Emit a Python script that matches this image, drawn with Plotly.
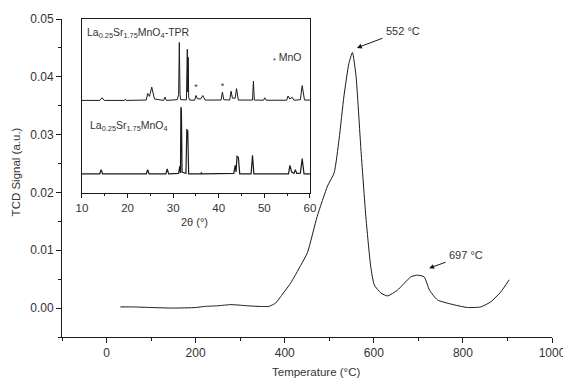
import plotly.graph_objects as go

# ---- TPR profile (main plot) ----
temp_c = [31, 60, 100, 150, 200, 222, 250, 279, 300, 316, 340, 365, 380, 391, 413,
          436, 451, 473, 496, 511, 522, 533, 544, 552, 560, 571, 582, 593, 601, 616,
          631, 653, 683, 698, 713, 725, 743, 773, 810, 840, 863, 885, 904]
tcd_signal = [0.0002, 0.0002, 0.0001, 0.0000, 0.0001, 0.0003, 0.0004, 0.0006, 0.0005,
              0.0004, 0.0003, 0.0003, 0.0009, 0.0020, 0.0043, 0.0074, 0.0096, 0.0159,
              0.0211, 0.0234, 0.0292, 0.0367, 0.0423, 0.0442, 0.0402, 0.0275, 0.0159,
              0.0072, 0.0040, 0.0026, 0.0021, 0.0031, 0.0054, 0.0057, 0.0054, 0.0031,
              0.0014, 0.0007, 0.0001, 0.0002, 0.0011, 0.0028, 0.0049]

# ---- XRD inset: after TPR (top pattern) ----
xrd_tpr_2theta = [10, 13.9, 14.4, 14.9, 19.3, 19.5, 19.7, 24.1, 24.4, 24.8, 25.3, 25.9,
                  27.9, 28.2, 28.5, 30.9, 31.2, 31.35, 31.5, 31.65, 32.9, 33.1, 33.2,
                  33.3, 33.4, 33.6, 34.7, 35.0, 35.3, 36.0, 36.5, 37.0, 40.5, 40.8, 41.1,
                  42.4, 42.7, 43.0, 43.6, 43.9, 44.3, 47.4, 47.6, 47.8, 49.8, 50.1, 50.4,
                  54.9, 55.2, 55.6, 56.1, 56.5, 57.9, 58.3, 58.8, 60]
xrd_tpr_int = [53.2, 53.2, 54.7, 53.2, 53.2, 53.9, 53.2, 53.4, 57.2, 55.5, 60.8, 54.0,
               53.2, 55.1, 53.2, 53.6, 56.6, 86.5, 56.6, 53.6, 53.5, 82.6, 58.0,
               78.0, 55.0, 53.4, 53.3, 56.0, 54.2, 54.0, 56.0, 53.4, 53.4, 58.0, 53.6,
               53.4, 58.5, 54.5, 54.5, 60.0, 53.4, 53.4, 64.2, 53.4, 53.3, 54.7, 53.3,
               53.3, 55.7, 54.0, 55.0, 53.3, 53.6, 61.7, 53.4, 53.4]

# ---- XRD inset: fresh sample (bottom pattern) ----
xrd_fresh_2theta = [10, 13.9, 14.2, 14.5, 24.1, 24.4, 24.7, 28.4, 28.7, 29.0, 31.2,
                    31.45, 31.6, 31.7, 31.8, 31.95, 32.8, 33.0, 33.1, 33.2, 33.4,
                    36.1, 36.2, 36.3, 43.3, 43.6, 43.8, 44.0, 44.3, 44.6, 47.1, 47.4,
                    47.7, 55.3, 55.6, 56.0, 56.5, 56.8, 57.1, 57.9, 58.3, 58.7, 60]
xrd_fresh_int = [11.0, 11.0, 13.4, 11.0, 11.0, 13.4, 11.0, 11.0, 13.8, 11.0, 11.2,
                 15.5, 11.5, 49.4, 48.0, 12.0, 11.2, 36.7, 35.5, 36.0, 11.0,
                 11.0, 11.8, 11.0, 11.2, 15.9, 12.0, 21.0, 20.5, 11.0, 11.0, 21.6,
                 11.0, 11.0, 15.9, 12.0, 11.2, 13.4, 11.2, 11.4, 19.7, 11.0, 11.0]

# ---- annotation labels ----
peak_labels = ["552 °C", "697 °C"]
peak_tips_t = [562, 724]
peak_tips_y = [0.0450, 0.0069]
label_t = [665, 807]
label_y = [0.0480, 0.0092]

mno_marks_2theta = [35.0, 40.8]
mno_marks_int = [60.5, 61.0]

ink = "#1a1a1a"
txt = "#333333"
font_family = "Liberation Sans, Arial, sans-serif"

fig = go.Figure()

fig.add_trace(go.Scatter(x=temp_c, y=tcd_signal, mode="lines",
                         line=dict(color=ink, width=1, shape="spline", smoothing=0.5),
                         xaxis="x", yaxis="y", showlegend=False, hoverinfo="skip"))
fig.add_trace(go.Scatter(x=xrd_tpr_2theta, y=xrd_tpr_int, mode="lines",
                         line=dict(color=ink, width=1), xaxis="x2", yaxis="y2",
                         showlegend=False, hoverinfo="skip"))
fig.add_trace(go.Scatter(x=xrd_fresh_2theta, y=xrd_fresh_int, mode="lines",
                         line=dict(color=ink, width=1.2), xaxis="x2", yaxis="y2",
                         showlegend=False, hoverinfo="skip"))
fig.add_trace(go.Scatter(x=mno_marks_2theta, y=mno_marks_int, mode="text",
                         text=["*"] * len(mno_marks_2theta),
                         textfont=dict(size=9, color=txt, family=font_family),
                         xaxis="x2", yaxis="y2", showlegend=False, hoverinfo="skip"))

annotations = []
for lab, xt, yt, xl, yl in zip(peak_labels, peak_tips_t, peak_tips_y, label_t, label_y):
    annotations.append(dict(x=xt, y=yt, xref="x", yref="y", ax=xl, ay=yl,
                            axref="x", ayref="y", text=lab, showarrow=True,
                            arrowhead=2, arrowsize=1, arrowwidth=1, arrowcolor=ink,
                            standoff=0, startstandoff=2,
                            font=dict(size=11, color=txt, family=font_family)))

annotations += [
    dict(x=10.7, y=92, xref="x2", yref="y2", xanchor="left", yanchor="middle",
         text="La<sub>0.25</sub>Sr<sub>1.75</sub>MnO<sub>4</sub>-TPR", showarrow=False,
         font=dict(size=10.5, color=txt, family=font_family)),
    dict(x=11.4, y=38.6, xref="x2", yref="y2", xanchor="left", yanchor="middle",
         text="La<sub>0.25</sub>Sr<sub>1.75</sub>MnO<sub>4</sub>", showarrow=False,
         font=dict(size=10.5, color=txt, family=font_family)),
    dict(x=51.4, y=77.5, xref="x2", yref="y2", xanchor="left", yanchor="middle",
         text="<sub>*</sub> MnO", showarrow=False,
         font=dict(size=10.5, color=txt, family=font_family)),
    # axis titles
    dict(x=0.518, y=-0.110, xref="paper", yref="paper", xanchor="center",
         yanchor="middle", text="Temperature (°C)", showarrow=False,
         font=dict(size=11.5, color=txt, family=font_family)),
    dict(x=-0.093, y=0.519, xref="paper", yref="paper", xanchor="center",
         yanchor="middle", text="TCD Signal (a.u.)", textangle=-90, showarrow=False,
         font=dict(size=11.5, color=txt, family=font_family)),
    dict(x=0.271, y=0.362, xref="paper", yref="paper", xanchor="center",
         yanchor="middle", text="2θ (°)", showarrow=False,
         font=dict(size=11, color=txt, family=font_family)),
]

# The page body adds an 8 px offset, so the figure is sized to fit the window.
fig.update_layout(
    width=563, height=374,
    margin=dict(l=54, r=19, t=11, b=45, autoexpand=False),
    paper_bgcolor="white", plot_bgcolor="white",
    font=dict(family=font_family, size=11, color=txt),
    annotations=annotations,
    xaxis=dict(range=[-100, 1000], dtick=200, tick0=0, showline=True, linecolor=ink,
               linewidth=1, ticks="outside", ticklen=5, tickcolor=ink,
               showgrid=False, zeroline=False, automargin=False,
               minor=dict(ticks="outside", dtick=100, tick0=0, ticklen=3, tickcolor=ink),
               tickfont=dict(size=12)),
    yaxis=dict(range=[-0.005, 0.05], dtick=0.01, tick0=0, tickformat=".2f",
               showline=True, linecolor=ink, linewidth=1, ticks="outside", ticklen=5,
               tickcolor=ink, showgrid=False, zeroline=False, automargin=False,
               minor=dict(ticks="outside", dtick=0.005, tick0=0, ticklen=3, tickcolor=ink),
               tickfont=dict(size=12)),
    xaxis2=dict(domain=[0.0408, 0.506], anchor="y2", range=[10, 60], dtick=10, tick0=10,
                showline=True, mirror=True, linecolor=ink, linewidth=1,
                ticks="outside", ticklen=4, tickcolor=ink, showgrid=False, zeroline=False,
                automargin=False,
                minor=dict(ticks="outside", dtick=5, tick0=10, ticklen=2, tickcolor=ink),
                tickfont=dict(size=11.5)),
    yaxis2=dict(domain=[0.453, 1.0], anchor="x2", range=[0, 100], showline=True,
                mirror=True, linecolor=ink, linewidth=1, ticks="", showticklabels=False,
                showgrid=False, zeroline=False, automargin=False),
)

fig.write_html("out.html")
